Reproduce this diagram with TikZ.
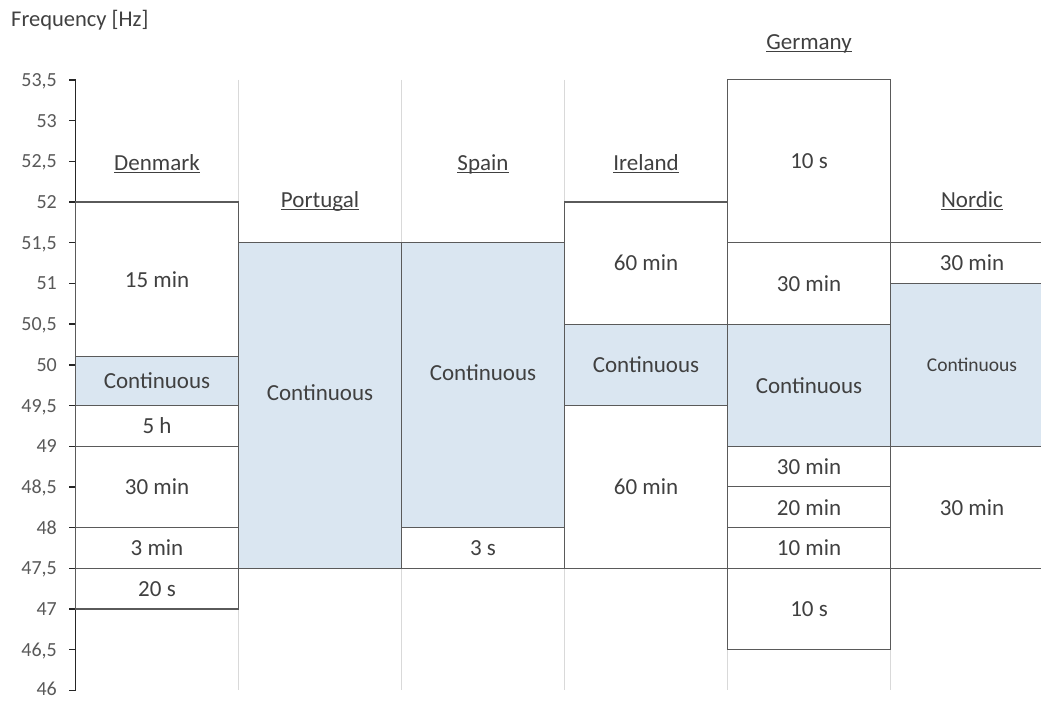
\documentclass[tikz,border=0pt]{standalone}
\usepackage{fontspec}
\setmainfont{Carlito}
\definecolor{txt}{HTML}{404040}
\definecolor{ticktxt}{HTML}{595959}
\definecolor{edge}{HTML}{5A5A5A}
\definecolor{gridc}{HTML}{D9D9D9}
\definecolor{cont}{HTML}{DAE6F1}
\newcommand\freqband[7]{% name, x left, f top, f bottom, box style, text style, text
  \draw[#5] (#2,{#3-46}) rectangle ({#2+163},{#4-46});
  \node[#6] (#1) at ({#2+81.5},{(#3+#4)/2-46}) {#7};}
\begin{document}
\begin{tikzpicture}[x=1pt,y=81.4pt,
  lbl/.style={font=\fontsize{23}{27}\selectfont, text=txt, inner sep=0pt},
  smalllbl/.style={font=\fontsize{19.5}{23}\selectfont, text=txt, inner sep=0pt},
  country/.style={font=\fontsize{23}{27}\selectfont, text=txt, inner sep=0pt, anchor=base},
  ticklbl/.style={font=\fontsize{20}{24}\selectfont, text=ticktxt, anchor=east, inner sep=0pt, text depth=0pt},
  plainbox/.style={draw=edge, line width=1.1pt, fill=white},
  contbox/.style={draw=edge, line width=1.1pt, fill=cont},
  gridline/.style={draw=gridc, line width=1pt},
  axisline/.style={draw=black!85, line width=1.4pt}]
\useasboundingbox (0,-0.118) rectangle (1041,8.482);
\clip (0,-0.118) rectangle (1041,8.482);

% vertical gridlines
\foreach \gx in {238.5,401.5,564.5,727.5,890.5}
  \draw[gridline] (\gx,7.5) -- (\gx,0);

% axis
\coordinate (axtop) at (75.5,7.5);
\coordinate (axbot) at (75.5,0);
\draw[axisline] (axtop) -- (axbot);
\foreach \f/\t [count=\i] in {53.5/{53,5},53/53,52.5/{52,5},52/52,51.5/{51,5},51/51,50.5/{50,5},50/50,49.5/{49,5},49/49,48.5/{48,5},48/48,47.5/{47,5},47/47,46.5/{46,5}}{
  \draw[axisline] (69,{\f-46}) -- (75.5,{\f-46});
  \node[ticklbl] (tick\i) at (57,{\f-46}) {\t};
}
\draw[axisline] (69,0) -- (75.5,0);
\node[ticklbl, yshift=2pt] (tick16) at (57,0) {46};
\node[font=\fontsize{22.5}{26}\selectfont, text=txt, inner sep=0pt, anchor=base west] (ylabel) at (11,8.154) {Frequency [Hz]};

% Denmark
\freqband{dk1}{75.5}{52}{50.1}{plainbox}{lbl}{15 min}
\freqband{dk2}{75.5}{50.1}{49.5}{contbox}{lbl}{Continuous}
\freqband{dk3}{75.5}{49.5}{49}{plainbox}{lbl}{5 h}
\freqband{dk4}{75.5}{49}{48}{plainbox}{lbl}{30 min}
\freqband{dk5}{75.5}{48}{47.5}{plainbox}{lbl}{3 min}
\freqband{dk6}{75.5}{47.5}{47}{plainbox}{lbl}{20 s}
% Portugal
\freqband{pt1}{238.5}{51.5}{47.5}{contbox}{lbl,yshift=12.6pt}{Continuous}
% Spain
\freqband{es1}{401.5}{51.5}{48}{contbox}{lbl,yshift=12.5pt}{Continuous}
\freqband{es2}{401.5}{48}{47.5}{plainbox}{lbl}{3 s}
% Ireland
\freqband{ie1}{564.5}{52}{50.5}{plainbox}{lbl}{60 min}
\freqband{ie2}{564.5}{50.5}{49.5}{contbox}{lbl}{Continuous}
\freqband{ie3}{564.5}{49.5}{47.5}{plainbox}{lbl}{60 min}
% Germany
\freqband{de1}{727.5}{53.5}{51.5}{plainbox}{lbl}{10 s}
\freqband{de2}{727.5}{51.5}{50.5}{plainbox}{lbl}{30 min}
\freqband{de3}{727.5}{50.5}{49}{contbox}{lbl}{Continuous}
\freqband{de4}{727.5}{49}{48.5}{plainbox}{lbl}{30 min}
\freqband{de5}{727.5}{48.5}{48}{plainbox}{lbl}{20 min}
\freqband{de6}{727.5}{48}{47.5}{plainbox}{lbl}{10 min}
\freqband{de7}{727.5}{47.5}{46.5}{plainbox}{lbl}{10 s}
% Nordic
\freqband{no1}{890.5}{51.5}{51}{plainbox}{lbl}{30 min}
\freqband{no2}{890.5}{51}{49}{contbox}{smalllbl}{Continuous}
\freqband{no3}{890.5}{49}{47.5}{plainbox}{lbl}{30 min}

% country labels
\node[country] (cdk) at (157,6.385) {\underline{\smash{Denmark}}};
\node[country] (cpt) at (320,5.935) {\underline{\smash{Portugal}}};
\node[country] (ces) at (483,6.385) {\underline{\smash{Spain}}};
\node[country] (cie) at (646,6.385) {\underline{\smash{Ireland}}};
\node[country] (cde) at (809,7.876) {\underline{\smash{Germany}}};
\node[country] (cno) at (972,5.935) {\underline{\smash{Nordic}}};
\end{tikzpicture}
\end{document}
